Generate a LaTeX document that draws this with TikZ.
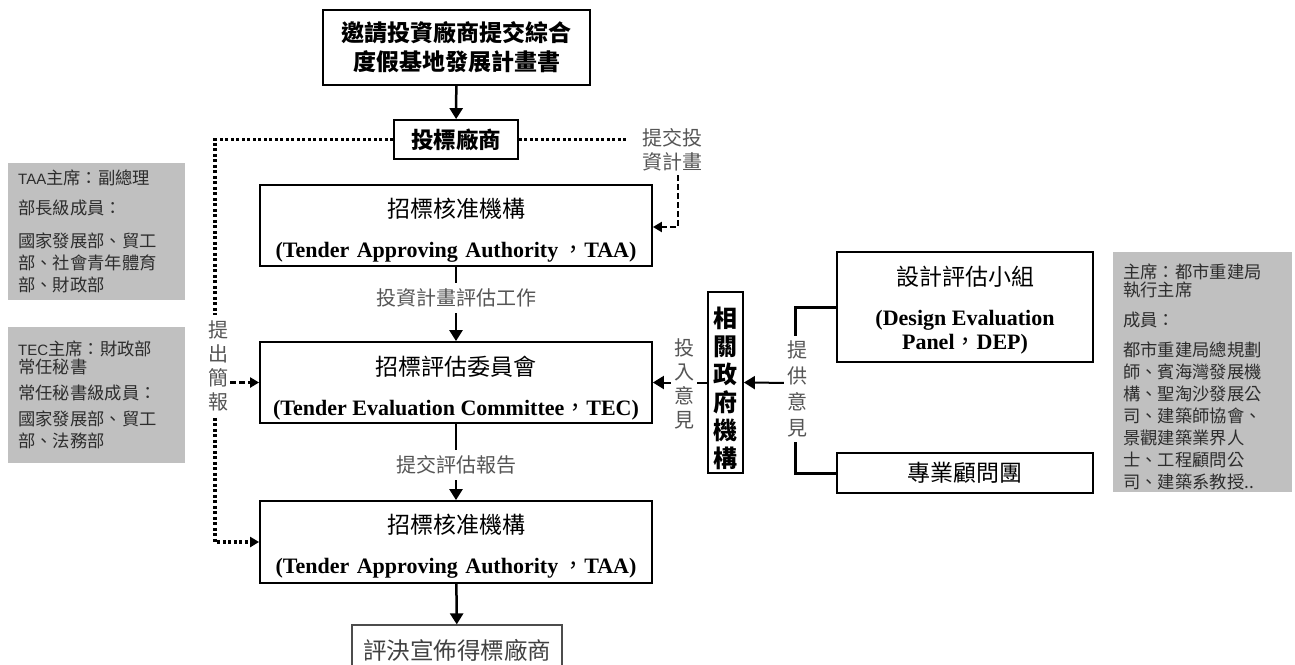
\documentclass[tikz,border=0pt]{standalone}
\usepackage{fontspec}
\setmainfont{Liberation Serif}
\setsansfont{Liberation Sans}
\newfontfamily\cjk{Noto Sans CJK TC}
\usetikzlibrary{arrows.meta}
\definecolor{boxgray}{RGB}{192,192,192}
\definecolor{lblgray}{RGB}{85,85,85}
\definecolor{infotext}{RGB}{45,45,45}
\begin{document}
\begin{tikzpicture}[x=1pt,y=-1pt,
 box/.style={draw=black, line width=1.8pt, inner sep=0pt, align=center},
 engt/.style={font=\bfseries\fontsize{22}{24}\selectfont},
 lbl/.style={text=lblgray, font=\cjk\fontsize{20}{24}\selectfont, align=center, inner sep=0pt},
 info/.style={fill=boxgray, text=infotext, font=\cjk\fontsize{17.3}{22}\selectfont, align=left, inner xsep=10pt, inner ysep=0pt, anchor=north west},
 tip/.style={-{Triangle[length=11pt,width=13pt]}},
 smalltip/.style={-{Triangle[length=9pt,width=10pt]}},
 arr/.style={line width=2.5pt, tip},
 dotl/.style={line width=3.5pt, dash pattern=on 3pt off 2.5pt},
 dsh/.style={line width=2.2pt, dash pattern=on 6pt off 3pt},
 brk/.style={line width=3pt},
]
\useasboundingbox (0,0) rectangle (1295,664);
\clip (0,0) rectangle (1295,664);

% main column
\node[box, minimum width=267pt, minimum height=75pt, font=\cjk\bfseries\fontsize{23}{29}\selectfont] (invite) at (456.5,47.5) {邀請投資廠商提交綜合\\度假基地發展計畫書};
\node[box, minimum width=124pt, minimum height=39pt, font=\cjk\bfseries\fontsize{22.5}{27}\selectfont] (bid) at (456,139.5) {投標廠商};
\node[box, minimum width=392pt, minimum height=81pt, engt] (taa1) at (456,225.5) {\rule{0pt}{28pt}{\cjk\mdseries\fontsize{23}{24}\selectfont 招標核准機構}\\[16pt](Tender\kern2pt\ Approving\kern2pt\ Authority\kern4pt{\cjk\mdseries ，}TAA)};
\node[box, minimum width=392pt, minimum height=81pt, engt] (tec) at (456,382.5) {\rule{0pt}{30pt}{\cjk\mdseries\fontsize{23}{24}\selectfont 招標評估委員會}\\[16pt](Tender Evaluation Committee{\cjk\mdseries ，}TEC)};
\node[box, minimum width=392pt, minimum height=82pt, engt] (taa2) at (456,542) {\rule{0pt}{27pt}{\cjk\mdseries\fontsize{23}{24}\selectfont 招標核准機構}\\[16pt](Tender\kern2pt\ Approving\kern2pt\ Authority\kern4pt{\cjk\mdseries ，}TAA)};
\node[box, draw=black!70, line width=1.2pt, minimum width=210pt, minimum height=50pt, text=black!75, font=\cjk\fontsize{23.5}{28}\selectfont] (award) at (457,650) {評決宣佈得標廠商};

\draw[arr] (invite) -- (bid);
\draw[arr] (taa1) -- (tec);
\node[lbl, fill=white, inner xsep=3pt, inner ysep=6pt] (evalwork) at (456,298) {投資計畫評估工作};
\draw[arr] (tec) -- (taa2);
\node[lbl, fill=white, inner xsep=3pt, inner ysep=6pt] (submitrep) at (456,465) {提交評估報告};
\draw[arr] (taa2) -- (award);

% left dotted loop
\coordinate (lcorner) at (215,542);
\draw[dotl, smalltip] (bid.west) -| (lcorner) -- (taa2.west);
\node[lbl, fill=white, inner xsep=2pt, inner ysep=6pt] (brief) at (218,366) {提\\出\\簡\\報};
\draw[dsh, smalltip] (brief.east |- tec.west) -- (tec.west);

% right dotted
\node[lbl] (subplan) at (672,150) {提交投\\資計畫};
\draw[dotl, shorten >=14pt] (bid.east) -- (subplan.west |- bid.east);
\coordinate (rcorner) at (678,227);
\draw[dsh, smalltip, shorten <=4pt] (subplan.south -| rcorner) -- (rcorner) -- (taa1.east |- rcorner);

% government agencies
\node[box, minimum width=35pt, minimum height=181pt, font=\cjk\bfseries\fontsize{24}{28}\selectfont] (gov) at (725.5,382.5) {\rule{0pt}{33pt}相\\關\\政\\府\\機\\構};
\draw[line width=2pt, tip] (gov.west) -- (tec.east |- gov.west);
\node[lbl, fill=white, inner xsep=3pt, inner ysep=4pt] (inputop) at (684,383.5) {投\\入\\意\\見};

% DEP and consultants
\node[box, minimum width=256pt, minimum height=110pt, engt] (dep) at (965,307) {\rule{0pt}{26pt}{\cjk\mdseries\fontsize{23}{24}\selectfont 設計評估小組}\\[16pt](Design Evaluation\\Panel{\cjk\mdseries ，}DEP)};
\node[box, minimum width=256pt, minimum height=40pt, font=\cjk\fontsize{23}{28}\selectfont] (cons) at (965,473) {專業顧問團};
\coordinate (bx) at (795,383);
\draw[brk] (dep.west) -| (bx) |- (cons.west);
\draw[line width=2pt, tip] (bx) -- (gov.east);
\node[lbl, fill=white, inner xsep=3pt, inner ysep=5pt, font=\cjk\fontsize{20}{26}\selectfont] (provide) at (797,389) {提\\供\\意\\見};

% info boxes
\node[info, text width=157pt, minimum height=137pt] (taainfo) at (8,163) {{\sffamily\fontsize{15}{22}\selectfont TAA}主席：副總理\\[8pt]部長級成員：\\[11pt]國家發展部、貿工\\部、社會青年體育\\部、財政部};
\node[info, text width=157pt, minimum height=136pt] (tecinfo) at (8,327) {{\sffamily\fontsize{15}{22}\selectfont TEC}主席：財政部\\[-4pt]常任秘書\\[4pt]常任秘書級成員：\\[4pt]國家發展部、貿工\\部、法務部};
\node[info, text width=159pt, minimum height=240pt] (depinfo) at (1113,252) {\rule{0pt}{25pt}主席：都市重建局\\[-4pt]執行主席\\[8pt]成員：\\[8pt]都市重建局總規劃\\師、賓海灣發展機\\構、聖淘沙發展公\\司、建築師協會、\\景觀建築業界人\\士、工程顧問公\\司、建築系教授..};
\end{tikzpicture}
\end{document}
